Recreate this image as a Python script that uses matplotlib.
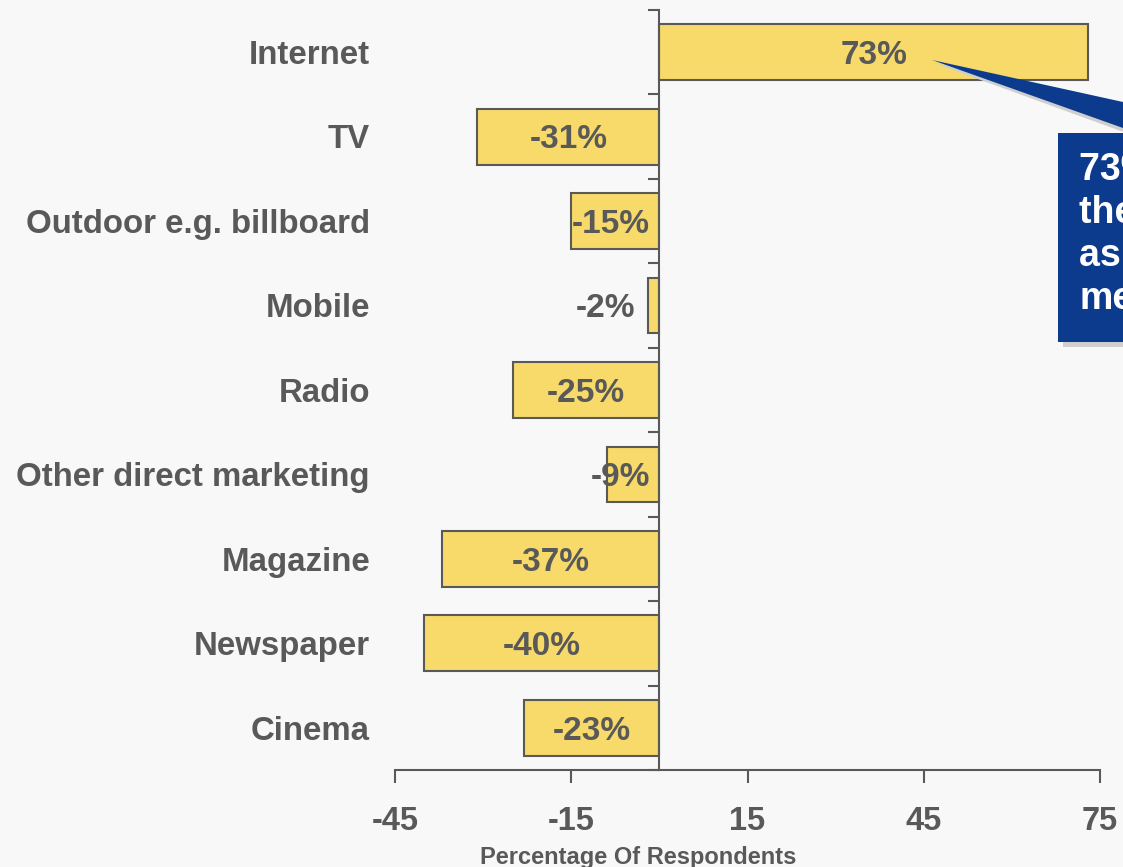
import matplotlib
matplotlib.use("Agg")
import matplotlib.pyplot as plt
from matplotlib.patches import Polygon, Rectangle

plt.rcParams['font.family'] = ['Liberation Sans', 'DejaVu Sans']
plt.rcParams['font.weight'] = 'bold'

# Media channels and net change in share of respondents (%)
categories = ["Internet", "TV", "Outdoor e.g. billboard", "Mobile", "Radio",
              "Other direct marketing", "Magazine", "Newspaper", "Cinema"]
values = [73, -31, -15, -2, -25, -9, -37, -40, -23]
xticks = [-45, -15, 15, 45, 75]
xlabel = "Percentage Of Respondents"
callout_lines = ["73% of", "the Internet", "as the top", "medium"]

W, H = 1123, 867
BG = "#f8f8f8"
GREY = "#595959"
YELLOW = "#f7da69"
BLUE = "#0c3b8d"

fig = plt.figure(figsize=(W / 100, H / 100), dpi=100, facecolor=BG)
ax = fig.add_axes([395 / W, 1 - 770 / H, 705 / W, 760 / H])
ax.set_facecolor("none")


def fig_px(x, y):
    """Pixel position (top-left origin) -> figure fraction."""
    return x / W, 1 - y / H


ypos = list(range(len(categories)))
ax.barh(ypos, values, height=0.66, color=YELLOW, edgecolor=GREY,
        linewidth=1.5, zorder=2)

ax.set_xlim(xticks[0], xticks[-1])
ax.set_ylim(len(categories) - 0.5, -0.5)

# spines: vertical axis sits at zero, horizontal axis at the bottom
for s in ("top", "right"):
    ax.spines[s].set_visible(False)
ax.spines["left"].set_position(("data", 0))
for s in ("left", "bottom"):
    ax.spines[s].set_color(GREY)
    ax.spines[s].set_linewidth(1.5)
    ax.spines[s].set_zorder(3)

ax.set_xticks(xticks)
ax.set_xticklabels([str(t) for t in xticks])
ax.tick_params(axis="x", direction="out", length=9, width=1.5, color=GREY,
               labelsize=23.5, labelcolor=GREY, pad=17)

bounds = [i - 0.5 for i in range(len(categories) + 1)]
ax.set_yticks(bounds)
ax.set_yticklabels([""] * len(bounds))
ax.tick_params(axis="y", direction="out", length=8, width=1.5, color=GREY)

# category names to the left of the plotting area
for y, name in zip(ypos, categories):
    ax.annotate(name, xy=(0, y), xycoords=ax.get_yaxis_transform(),
                xytext=(-18, -8.5), textcoords="offset points",
                ha="right", va="baseline", fontsize=23.8, color=GREY,
                fontweight="bold", annotation_clip=False)

# value labels
for y, v in zip(ypos, values):
    if v > 0 or abs(v) >= 20:
        x, ha = v / 2, "center"
    elif abs(v) >= 5:
        x, ha = -1.6, "right"
    else:
        x, ha = v - 2.1, "right"
    ax.annotate(f"{v}%", xy=(x, y), xytext=(0, -8.5),
                textcoords="offset points", ha=ha, va="baseline",
                fontsize=24, color=GREY, fontweight="bold", zorder=4)

fig.text(*fig_px(638, 864), xlabel, ha="center", va="baseline",
         fontsize=17, color=GREY, fontweight="bold")

# callout box with pointer toward the Internet bar
tip = (932, 60)
shadow_off = 5
shadow_wedge = Polygon([fig_px(tip[0] + 2, tip[1] + 3),
                        fig_px(1140, 133 + shadow_off),
                        fig_px(1270, 133 + shadow_off)],
                       closed=True, transform=fig.transFigure,
                       facecolor="#cfcfcf", edgecolor="none", zorder=5)
fig.patches.append(shadow_wedge)
shadow_box = Rectangle(fig_px(1058 + shadow_off, 342 + shadow_off),
                       300 / W, (342 - 133) / H, transform=fig.transFigure,
                       facecolor="#cfcfcf", edgecolor="none", zorder=5)
fig.patches.append(shadow_box)
wedge = Polygon([fig_px(*tip), fig_px(1137, 133), fig_px(1264, 133)],
                closed=True, transform=fig.transFigure,
                facecolor=BLUE, edgecolor="none", zorder=6)
fig.patches.append(wedge)
box = Rectangle(fig_px(1058, 342), 300 / W, (342 - 133) / H,
                transform=fig.transFigure, facecolor=BLUE,
                edgecolor="none", zorder=6)
fig.patches.append(box)

for i, line in enumerate(callout_lines):
    fig.text(*fig_px(1079, 180 + i * 43), line, ha="left", va="baseline",
             fontsize=27, color="white", fontweight="bold", zorder=7)

fig.savefig("out.png", dpi=100, facecolor=BG)
